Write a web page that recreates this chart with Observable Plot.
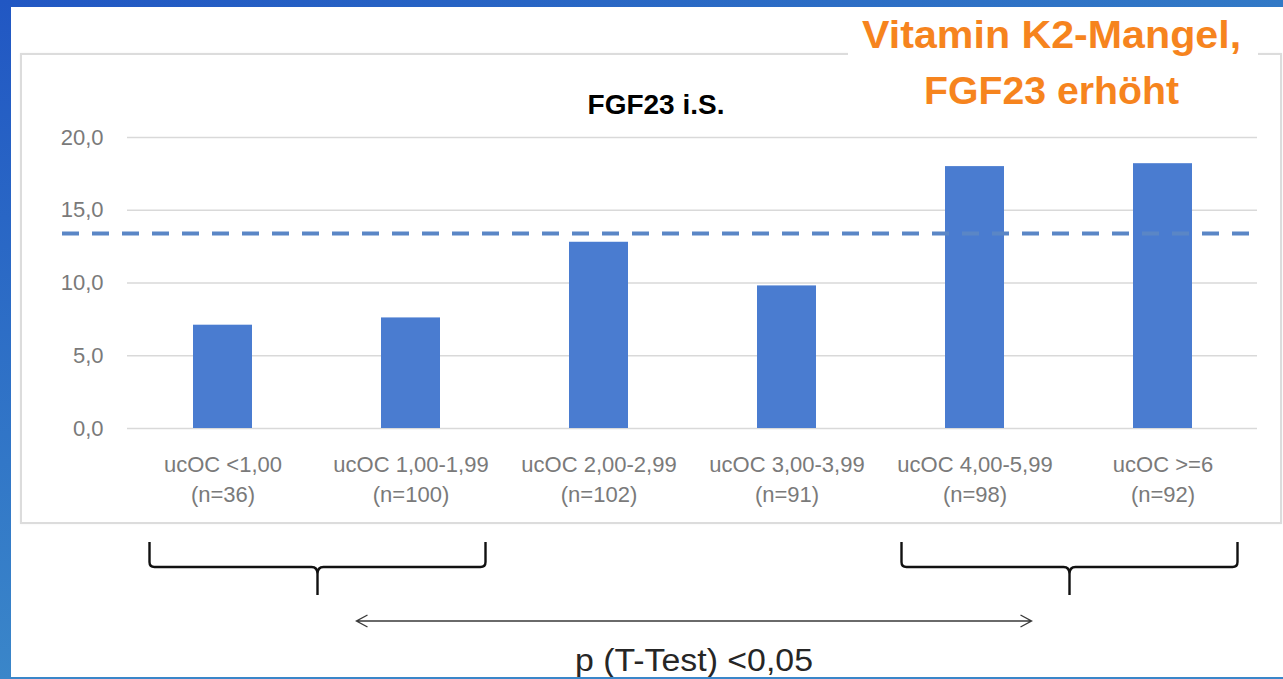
<!DOCTYPE html>
<html>
<head>
<meta charset="utf-8">
<script src="https://cdn.jsdelivr.net/npm/d3@7"></script>
<script src="https://cdn.jsdelivr.net/npm/@observablehq/plot@0.6"></script>
<style>
  html, body { margin: 0; padding: 0; background: #fff; overflow: hidden; }
  #wrap { position: relative; width: 1283px; height: 679px; background: #fff; font-family: "Liberation Sans", Arial, sans-serif; }
  #box { position: absolute; left: 20px; top: 53px; width: 1258px; height: 467px; border: 2px solid #dcdcdc; box-shadow: 0 0 2px rgba(0,0,0,0.06); z-index: 1; }
  #whiteout { position: absolute; left: 848px; top: 8px; width: 410px; height: 118px; background: #fff; z-index: 2; }
  #chart { position: absolute; left: 0; top: 0; z-index: 3; }
  #title { position: absolute; left: 556px; top: 88px; width: 200px; text-align: center; font-weight: bold; font-size: 28px; color: #000; z-index: 4; line-height: 34px; }
  .band { position: absolute; z-index: 5; }
</style>
</head>
<body>
<div id="wrap">
  <div id="box"></div>
  <div id="whiteout"></div>
  <div id="title">FGF23 i.S.</div>
  <div id="chart"></div>
  <div class="band" style="left:0;top:0;width:1283px;height:7px;background:linear-gradient(90deg,#2157c3,#3279c6);"></div>
  <div class="band" style="left:0;top:0;width:11px;height:679px;background:linear-gradient(180deg,#2157c3,#3a86c9);"></div>
  <div class="band" style="left:0;top:677px;width:1283px;height:2px;background:#3a86c9;"></div>
</div>
<script>
// ---- data ----
const categories = ["ucOC <1,00", "ucOC 1,00-1,99", "ucOC 2,00-2,99", "ucOC 3,00-3,99", "ucOC 4,00-5,99", "ucOC >=6"];
const sampleSizes = ["(n=36)", "(n=100)", "(n=102)", "(n=91)", "(n=98)", "(n=92)"];
const fgf23 = [7.1, 7.6, 12.8, 9.8, 18.0, 18.2];
const referenceLevel = [13.4];
const yTicks = [0, 5, 10, 15, 20];
const braceGroups = [[0, 1], [4, 5]];
const noteLines = ["Vitamin K2-Mangel,", "FGF23 erhöht"];
const pNote = "p (T-Test) <0,05";

const data = categories.map((c, i) => ({category: c, value: fgf23[i]}));

// ---- annotation mark (braces, arrow, notes) drawn from the scales ----
function annotations(index, scales, values, dimensions) {
  const x = scales.x, y = scales.y;
  const bw = x.bandwidth();
  const step = x(categories[1]) - x(categories[0]);
  const center = c => x(c) + bw / 2;
  const base = y(0);
  const g = d3.create("svg:g");
  const mids = [];
  for (const [a, b] of braceGroups) {
    const l = center(categories[a]) - step / 2 + 21;
    const r = center(categories[b]) + step / 2 - 19;
    const m = (l + r) / 2;
    mids.push(m);
    const top = base + 114, h = base + 139, tip = base + 167;
    const path = `M${l},${top} L${l},${h - 5} Q${l},${h} ${l + 5},${h} L${m - 6},${h} Q${m},${h} ${m},${h + 7} L${m},${tip} M${m},${h + 7} Q${m},${h} ${m + 6},${h} L${r - 5},${h} Q${r},${h} ${r},${h - 5} L${r},${top}`;
    g.append("path").attr("d", path).attr("fill", "none").attr("stroke", "#111").attr("stroke-width", 2.4);
  }
  // double arrow
  const ay = base + 193;
  const a0 = mids[0] + 39, a1 = mids[1] - 38;
  g.append("path")
    .attr("d", `M${a0},${ay} L${a1},${ay} M${a0 + 11},${ay - 6} L${a0},${ay} L${a0 + 11},${ay + 6} M${a1 - 11},${ay - 6} L${a1},${ay} L${a1 - 11},${ay + 6}`)
    .attr("fill", "none").attr("stroke", "#3a3a3a").attr("stroke-width", 1.4);
  g.append("text").attr("x", (a0 + a1) / 2).attr("y", base + 243)
    .attr("text-anchor", "middle").attr("font-size", 31).attr("fill", "#262626")
    .attr("font-family", "Liberation Sans, Arial, sans-serif")
    .attr("textLength", 238).attr("lengthAdjust", "spacingAndGlyphs").text(pNote);
  // orange note
  const nx = center(categories[4]) + (center(categories[5]) - center(categories[4])) * 0.41;
  const lens = [379, 255];
  const ys = [y(20) - 89, y(20) - 33];
  noteLines.forEach((t, i) => {
    g.append("text").attr("x", nx).attr("y", ys[i]).attr("text-anchor", "middle")
      .attr("font-size", 38).attr("font-weight", "bold").attr("fill", "#f6841e")
      .attr("font-family", "Liberation Sans, Arial, sans-serif")
      .attr("textLength", lens[i]).attr("lengthAdjust", "spacingAndGlyphs").text(t);
  });
  return g.node();
}

const chart = Plot.plot({
  width: 1283,
  height: 679,
  marginLeft: 127,
  marginRight: 26,
  marginTop: 137,
  marginBottom: 251,
  style: {fontFamily: "Liberation Sans, Arial, sans-serif", fontSize: "22px", background: "transparent", overflow: "visible"},
  x: {domain: categories, paddingInner: 0.687, paddingOuter: 0.3435, label: null},
  y: {domain: [0, 20], label: null},
  marks: [
    Plot.gridY(yTicks, {stroke: "#d9d9d9", strokeOpacity: 1, strokeWidth: 1.6}),
    Plot.barY(data, {x: "category", y: "value", fill: "#4a7cd0"}),
    Plot.ruleY(referenceLevel, {stroke: "#5a86c6", strokeWidth: 4, strokeDasharray: "17,13", insetLeft: -65, insetRight: -5}),
    Plot.axisY(yTicks, {tickSize: 0, tickPadding: 24, fill: "#7a7a7a", fontSize: 22,
      tickFormat: d => d.toFixed(1).replace(".", ",")}),
    Plot.axisX({tickSize: 0, tickPadding: 22, fill: "#7a7a7a", fontSize: 22, lineHeight: 1.36,
      tickFormat: d => d + "\n" + sampleSizes[categories.indexOf(d)]}),
    annotations
  ]
});
document.getElementById("chart").appendChild(chart);
</script>
</body>
</html>
